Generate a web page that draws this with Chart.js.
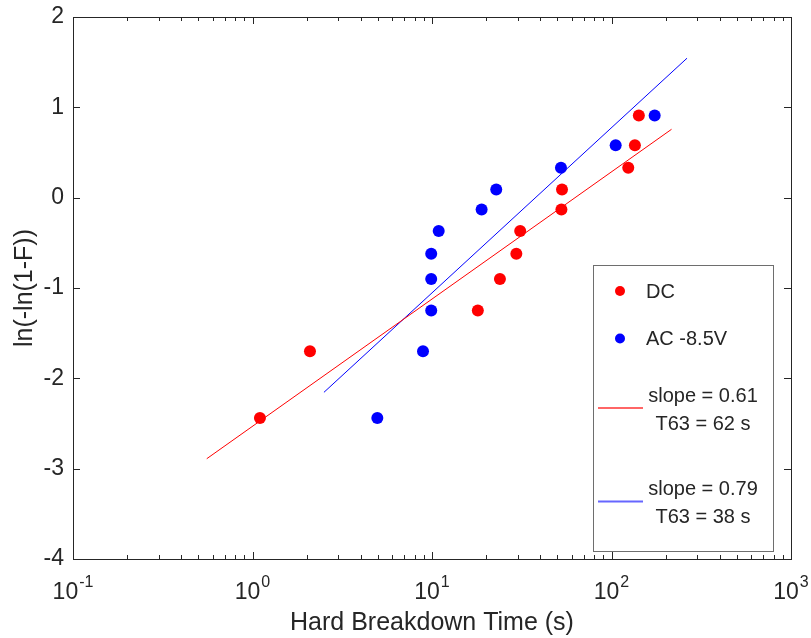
<!DOCTYPE html>
<html>
<head>
<meta charset="utf-8">
<script src="https://cdn.jsdelivr.net/npm/chart.js@4.4.1/dist/chart.umd.min.js"></script>
<style>
  html, body { margin: 0; padding: 0; background: #ffffff; }
  #wrap { width: 811px; height: 638px; }
</style>
</head>
<body>
<div id="wrap"><canvas id="c" width="811" height="638"></canvas></div>
<script>
// ---- data ----
const xTickValues = [0.1, 1, 10, 100, 1000];
const xTickBase = ['10', '10', '10', '10', '10'];
const xTickExp = ['-1', '0', '1', '2', '3'];
const yTickValues = [-4, -3, -2, -1, 0, 1, 2];

const rankY  = [-2.44, -1.70, -1.25, -0.90, -0.62, -0.37, -0.13, 0.09, 0.33, 0.58, 0.91];
const dcTime = [1.10, 2.09, 18.0, 23.9, 29.5, 31.0, 52.6, 53.0, 124, 135, 142];
const acTime = [4.96, 8.91, 9.9, 9.9, 9.9, 10.9, 18.9, 22.8, 52.3, 105.5, 174];

const dcFitX = [0.556, 216];
const dcFitY = [-2.89, 0.757];
const acFitX = [2.50, 263.5];
const acFitY = [-2.155, 1.544];

const seriesNames = ['DC', 'AC -8.5V'];
const fitNames = [['slope = 0.61', 'T63 = 62 s'], ['slope = 0.79', 'T63 = 38 s']];

const xTitle = 'Hard Breakdown Time (s)';
const yTitle = 'ln(-ln(1-F))';

// ---- build ----
const FONT = '"Liberation Sans", Arial, Helvetica, sans-serif';
const INK = '#262626';
const toPts = (xs, ys) => xs.map((x, i) => ({ x: x, y: ys[i] }));

const boxAndTicks = {
  id: 'boxAndTicks',
  afterDatasetsDraw(chart) {
    const { ctx, chartArea: a, scales: { x, y } } = chart;
    ctx.save();
    ctx.strokeStyle = INK;
    ctx.lineWidth = 1;
    ctx.beginPath();
    for (let d = 0; d < xTickValues.length; d++) {
      const base = xTickValues[d];
      for (let m = 1; m <= 9; m++) {
        const v = base * m;
        if (v > xTickValues[xTickValues.length - 1] * 1.0001) break;
        const px = Math.round(x.getPixelForValue(v)) + 0.5;
        const len = m === 1 ? 7 : 4;
        ctx.moveTo(px, a.bottom); ctx.lineTo(px, a.bottom - len);
        ctx.moveTo(px, a.top); ctx.lineTo(px, a.top + len);
      }
    }
    yTickValues.forEach(v => {
      const py = Math.round(y.getPixelForValue(v)) + 0.5;
      ctx.moveTo(a.left, py); ctx.lineTo(a.left + 7, py);
      ctx.moveTo(a.right, py); ctx.lineTo(a.right - 7, py);
    });
    ctx.stroke();
    ctx.strokeRect(Math.round(a.left) + 0.5, Math.round(a.top) + 0.5,
                   Math.round(a.right - a.left), Math.round(a.bottom - a.top));
    ctx.restore();
  },
  afterDraw(chart) {
    // x tick labels as base + superscript exponent, placed by the x scale
    const { ctx, chartArea: a, scales: { x } } = chart;
    ctx.save();
    ctx.fillStyle = INK;
    ctx.textBaseline = 'alphabetic';
    ctx.textAlign = 'left';
    xTickValues.forEach((v, i) => {
      const px = x.getPixelForValue(v);
      ctx.font = '23px ' + FONT;
      const w1 = ctx.measureText(xTickBase[i]).width;
      ctx.font = '16px ' + FONT;
      const w2 = ctx.measureText(xTickExp[i]).width;
      const gap = 1;
      const start = px - (w1 + gap + w2) / 2;
      ctx.font = '23px ' + FONT;
      ctx.fillText(xTickBase[i], start, a.bottom + 39.5);
      ctx.font = '16px ' + FONT;
      ctx.fillText(xTickExp[i], start + w1 + gap, a.bottom + 28);
    });
    ctx.restore();
  }
};

const legendBox = {
  id: 'legendBox',
  afterDraw(chart) {
    const { ctx } = chart;
    const ds = chart.data.datasets;
    const L = 593.5, T = 265.5, W = 180, H = 286;
    ctx.save();
    ctx.fillStyle = '#ffffff';
    ctx.fillRect(L, T, W, H);
    ctx.strokeStyle = '#6e6e6e';
    ctx.lineWidth = 1;
    ctx.strokeRect(L, T, W, H);
    ctx.font = '20px ' + FONT;
    ctx.fillStyle = INK;
    ctx.textBaseline = 'middle';
    const markerY = [291, 338.5];
    [0, 1].forEach(i => {
      ctx.beginPath();
      ctx.fillStyle = ds[i].backgroundColor;
      ctx.arc(620, markerY[i], 5, 0, Math.PI * 2);
      ctx.fill();
      ctx.fillStyle = INK;
      ctx.textAlign = 'left';
      ctx.fillText(ds[i].label, 646, markerY[i] + 1);
    });
    const lineY = [408, 501.5];
    [2, 3].forEach((i, k) => {
      ctx.beginPath();
      ctx.strokeStyle = ds[i].borderColor;
      ctx.globalAlpha = 0.6;
      ctx.lineWidth = 2;
      ctx.moveTo(598, lineY[k]); ctx.lineTo(643, lineY[k]);
      ctx.stroke();
      ctx.globalAlpha = 1;
      ctx.fillStyle = INK;
      ctx.textAlign = 'center';
      ctx.fillText(ds[i].label[0], 703, lineY[k] - 12);
      ctx.fillText(ds[i].label[1], 703, lineY[k] + 16);
    });
    ctx.restore();
  }
};

new Chart(document.getElementById('c'), {
  type: 'scatter',
  data: {
    datasets: [
      { label: seriesNames[0], data: toPts(dcTime, rankY), backgroundColor: '#ff0000',
        borderColor: '#ff0000', pointRadius: 6, borderWidth: 0, pointHoverRadius: 6 },
      { label: seriesNames[1], data: toPts(acTime, rankY), backgroundColor: '#0000ff',
        borderColor: '#0000ff', pointRadius: 6, borderWidth: 0, pointHoverRadius: 6 },
      { label: fitNames[0], data: toPts(dcFitX, dcFitY), showLine: true, borderColor: '#ff0000',
        backgroundColor: '#ff0000', borderWidth: 1, pointRadius: 0 },
      { label: fitNames[1], data: toPts(acFitX, acFitY), showLine: true, borderColor: '#0000ff',
        backgroundColor: '#0000ff', borderWidth: 1, pointRadius: 0 }
    ]
  },
  options: {
    responsive: false,
    animation: false,
    devicePixelRatio: 1,
    layout: { padding: { left: 0, right: 20, top: 17, bottom: 0 } },
    plugins: { legend: { display: false }, tooltip: { enabled: false } },
    scales: {
      x: {
        type: 'logarithmic', position: 'bottom', min: 0.1, max: 1000,
        afterBuildTicks: s => { s.ticks = xTickValues.map(v => ({ value: v, major: true })); },
        afterFit: s => { s.height = 79; s.paddingLeft = 0; s.paddingRight = 0; },
        grid: { display: false, drawTicks: false }, border: { display: false },
        ticks: { autoSkip: false, maxRotation: 0, minRotation: 0, color: INK,
                 font: { family: FONT, size: 23 }, callback: () => '' },
        title: { display: true, text: xTitle, color: INK, font: { family: FONT, size: 25 },
                 padding: { top: 0, bottom: 0 } }
      },
      y: {
        type: 'linear', position: 'left', min: -4, max: 2,
        afterBuildTicks: s => { s.ticks = yTickValues.map(v => ({ value: v })); },
        afterFit: s => { s.width = 73; s.paddingTop = 0; s.paddingBottom = 0; },
        grid: { display: false, drawTicks: false }, border: { display: false },
        ticks: { padding: 9, color: INK, font: { family: FONT, size: 23 } },
        title: { display: true, text: yTitle, color: INK, font: { family: FONT, size: 25 },
                 padding: { top: 10, bottom: 0 } }
      }
    }
  },
  plugins: [boxAndTicks, legendBox]
});
</script>
</body>
</html>
